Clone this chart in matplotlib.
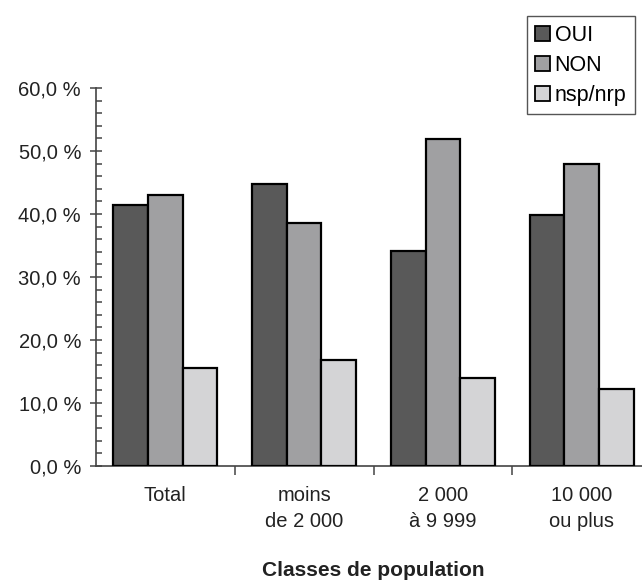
import matplotlib
matplotlib.use("Agg")
import matplotlib.pyplot as plt
from matplotlib.patches import Patch
from matplotlib.ticker import MultipleLocator, FixedLocator, FuncFormatter
import numpy as np

categories = ["Total", "moins\nde 2 000", "2 000\nà 9 999", "10 000\nou plus"]
series = ["OUI", "NON", "nsp/nrp"]
oui = [41.4, 44.7, 34.2, 39.8]
non = [43.0, 38.5, 51.9, 48.0]
nsp = [15.6, 16.8, 13.9, 12.2]
colors = ["#595959", "#a0a0a2", "#d4d4d6"]

plt.rcParams["font.family"] = ["Liberation Sans", "DejaVu Sans"]
plt.rcParams["font.size"] = 14.5

fig = plt.figure(figsize=(6.42, 5.81), dpi=100)
# axes runs past the right edge, as in the cropped original
ax = fig.add_axes([96 / 642, 115 / 581, 555 / 642, 378 / 581])

x = np.arange(len(categories))
w = 0.25
for i, (vals, col) in enumerate(zip([oui, non, nsp], colors)):
    ax.bar(x + (i - 1) * w, vals, width=w, color=col, edgecolor="black",
           linewidth=1.6, zorder=3)

ax.set_xlim(-0.5, 3.5)
ax.set_ylim(0, 60)

ax.spines["top"].set_visible(False)
ax.spines["right"].set_visible(False)
for s in ("left", "bottom"):
    ax.spines[s].set_color("#444444")
    ax.spines[s].set_linewidth(1.2)

ax.yaxis.set_major_locator(MultipleLocator(10))
ax.yaxis.set_minor_locator(MultipleLocator(2))
ax.yaxis.set_major_formatter(FuncFormatter(lambda v, p: f"{v:.1f} %".replace(".", ",")))
ax.tick_params(axis="y", which="major", direction="inout", length=8.5,
               width=1.1, color="#444444", pad=6.5, labelcolor="#222222")
ax.tick_params(axis="y", which="minor", direction="in", length=4,
               width=1.1, color="#444444")

ax.xaxis.set_major_locator(FixedLocator(x))
ax.set_xticklabels(categories, linespacing=1.45, color="#222222")
ax.xaxis.set_minor_locator(FixedLocator([0.5, 1.5, 2.5]))
ax.tick_params(axis="x", which="major", length=0, pad=14.5)
ax.tick_params(axis="x", which="minor", direction="out", length=6.5,
               width=1.1, color="#444444")
for lab in ax.get_xticklabels():
    lab.set_verticalalignment("top")

fig.text(373 / 642, 1 - 570 / 581, "Classes de population", ha="center",
         va="center", fontweight="bold", fontsize=15, color="#222222")

handles = [Patch(facecolor=c, edgecolor="black", linewidth=1.3) for c in colors]
leg = fig.legend(handles, series, loc="upper right",
                 bbox_to_anchor=(635 / 642, 1 - 16 / 581),
                 bbox_transform=fig.transFigure, borderaxespad=0,
                 fontsize=15.5,
                 handlelength=0.7, handleheight=0.7, handletextpad=0.2,
                 labelspacing=0.42, borderpad=0.4, fancybox=False,
                 framealpha=1, edgecolor="#555555")
leg.get_frame().set_linewidth(1.0)

fig.savefig("out.png", dpi=100, facecolor="white")
